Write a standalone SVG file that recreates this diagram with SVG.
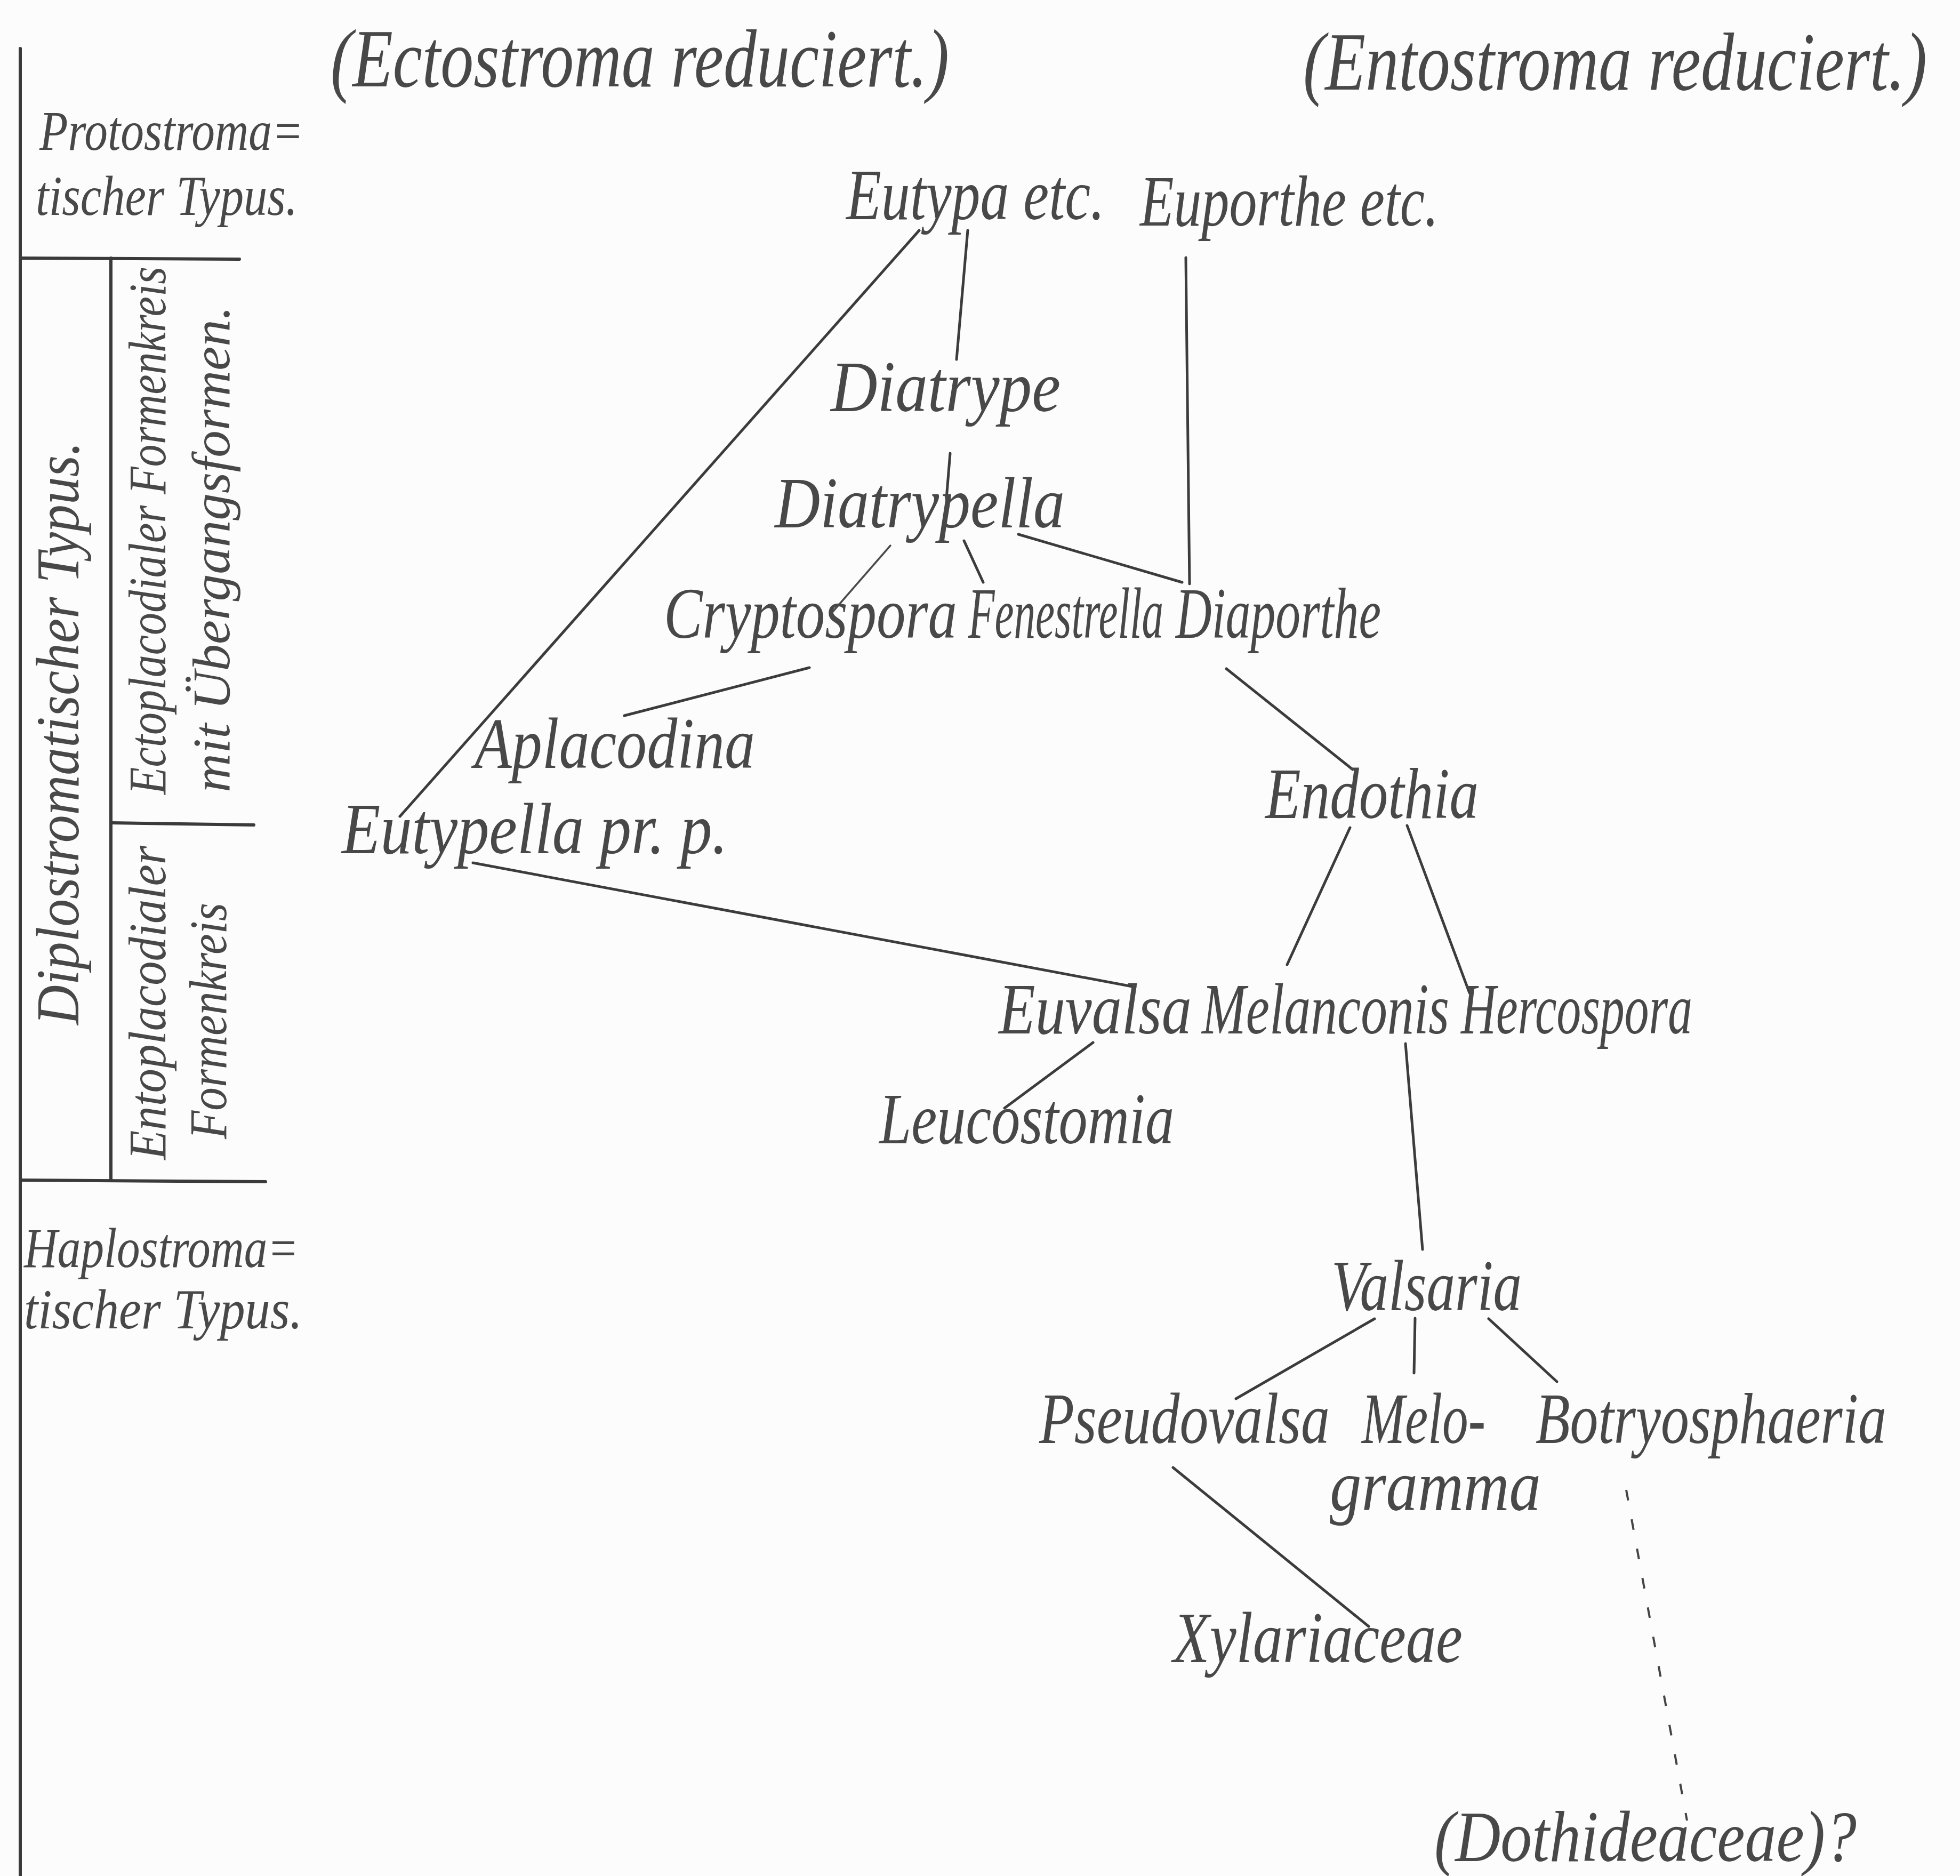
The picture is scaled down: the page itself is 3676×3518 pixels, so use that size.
<svg xmlns="http://www.w3.org/2000/svg" width="3676" height="3518" viewBox="0 0 3676 3518">
<style>
  .bg { fill: #fcfcfc; }
  .frame { stroke: #3a3a3a; stroke-width: 6; fill: none; stroke-linecap: round; }
  .edge { stroke: #3c3c3c; stroke-width: 5; fill: none; stroke-linecap: round; }
  .thin { stroke: #4a4a4a; stroke-width: 3.5; fill: none; stroke-linecap: round; }
  .dots { stroke: #444; stroke-width: 4; fill: none; stroke-dasharray: 20 36; }
  text { font-family: "Liberation Serif", "DejaVu Serif", serif; font-style: italic; fill: #484848; }
  .hdr { font-size: 155px; }
  .side { font-size: 105px; }
  .vert { font-size: 115px; }
  .vert2 { font-size: 100px; }
  .lbl { font-size: 135px; }
</style>
<rect class="bg" x="0" y="0" width="3676" height="3518"/>

<g id="frame">
  <line class="frame" x1="38" y1="91" x2="38" y2="3518"/>
  <line class="frame" x1="38" y1="484" x2="449" y2="486"/>
  <line class="frame" x1="208" y1="484" x2="208" y2="2213"/>
  <line class="frame" x1="208" y1="1543" x2="476" y2="1547"/>
  <line class="frame" x1="38" y1="2213" x2="498" y2="2216"/>
</g>

<g id="headers">
  <text class="hdr" x="620" y="162" textLength="1160" lengthAdjust="spacingAndGlyphs">(Ectostroma reduciert.)</text>
  <text class="hdr" x="2444" y="168" textLength="1170" lengthAdjust="spacingAndGlyphs">(Entostroma reduciert.)</text>
</g>

<g id="side-labels">
  <g id="protostromatisch">
    <text class="side" x="74" y="281" textLength="495" lengthAdjust="spacingAndGlyphs">Protostroma=</text>
    <text class="side" x="67" y="403" textLength="491" lengthAdjust="spacingAndGlyphs">tischer Typus.</text>
  </g>
  <g id="diplostromatisch">
    <text class="vert" transform="translate(147,1922) rotate(-90)" textLength="1094" lengthAdjust="spacingAndGlyphs">Diplostromatischer Typus.</text>
  </g>
  <g id="ectoplacodial">
    <text class="vert2" transform="translate(310,1490) rotate(-90)" textLength="990" lengthAdjust="spacingAndGlyphs">Ectoplacodialer Formenkreis</text>
    <text class="vert2" transform="translate(430,1486) rotate(-90)" textLength="912" lengthAdjust="spacingAndGlyphs">mit Übergangsformen.</text>
  </g>
  <g id="entoplacodial">
    <text class="vert2" transform="translate(310,2175) rotate(-90)" textLength="589" lengthAdjust="spacingAndGlyphs">Entoplacodialer</text>
    <text class="vert2" transform="translate(424,2136) rotate(-90)" textLength="443" lengthAdjust="spacingAndGlyphs">Formenkreis</text>
  </g>
  <g id="haplostromatisch">
    <text class="side" x="45" y="2376" textLength="515" lengthAdjust="spacingAndGlyphs">Haplostroma=</text>
    <text class="side" x="45" y="2491" textLength="522" lengthAdjust="spacingAndGlyphs">tischer Typus.</text>
  </g>
</g>

<g id="connectors">
  <line class="edge" x1="1724" y1="432" x2="750" y2="1531"/>
  <line class="edge" x1="1815" y1="432" x2="1794" y2="674"/>
  <line class="edge" x1="1782" y1="850" x2="1775" y2="935"/>
  <line class="edge" x1="2224" y1="483" x2="2231" y2="1095"/>
  <line class="edge" x1="1910" y1="1002" x2="2217" y2="1092"/>
  <line class="edge" x1="1808" y1="1014" x2="1844" y2="1092"/>
  <line class="thin" x1="1670" y1="1023" x2="1562" y2="1147"/>
  <line class="edge" x1="1518" y1="1252" x2="1171" y2="1342"/>
  <line class="edge" x1="887" y1="1618" x2="2129" y2="1851"/>
  <line class="edge" x1="2300" y1="1254" x2="2537" y2="1443"/>
  <line class="edge" x1="2532" y1="1552" x2="2414" y2="1809"/>
  <line class="edge" x1="2639" y1="1548" x2="2756" y2="1862"/>
  <line class="edge" x1="2050" y1="1955" x2="1884" y2="2078"/>
  <line class="edge" x1="2636" y1="1957" x2="2668" y2="2343"/>
  <line class="edge" x1="2578" y1="2473" x2="2318" y2="2623"/>
  <line class="edge" x1="2654" y1="2472" x2="2652" y2="2575"/>
  <line class="edge" x1="2792" y1="2473" x2="2920" y2="2591"/>
  <line class="edge" x1="2200" y1="2752" x2="2567" y2="3050"/>
  <line class="dots" x1="3050" y1="2794" x2="3164" y2="3414"/>
</g>

<g id="n-eutypa"><text class="lbl" x="1587" y="411" textLength="485" lengthAdjust="spacingAndGlyphs">Eutypa etc.</text></g>
<g id="n-euporthe"><text class="lbl" x="2138" y="423" textLength="560" lengthAdjust="spacingAndGlyphs">Euporthe etc.</text></g>
<g id="n-diatrype"><text class="lbl" x="1558" y="771" textLength="431" lengthAdjust="spacingAndGlyphs">Diatrype</text></g>
<g id="n-diatrypella"><text class="lbl" x="1453" y="989" textLength="544" lengthAdjust="spacingAndGlyphs">Diatrypella</text></g>
<g id="n-cryptospora"><text class="lbl" x="1245" y="1196" textLength="550" lengthAdjust="spacingAndGlyphs">Cryptospora</text></g>
<g id="n-fenestrella"><text class="lbl" x="1816" y="1196" textLength="366" lengthAdjust="spacingAndGlyphs">Fenestrella</text></g>
<g id="n-diaporthe"><text class="lbl" x="2205" y="1196" textLength="385" lengthAdjust="spacingAndGlyphs">Diaporthe</text></g>
<g id="n-aplacodina"><text class="lbl" x="890" y="1440" textLength="526" lengthAdjust="spacingAndGlyphs">Aplacodina</text></g>
<g id="n-eutypella"><text class="lbl" x="641" y="1600" textLength="724" lengthAdjust="spacingAndGlyphs">Eutypella pr. p.</text></g>
<g id="n-endothia"><text class="lbl" x="2373" y="1534" textLength="400" lengthAdjust="spacingAndGlyphs">Endothia</text></g>
<g id="n-euvalsa"><text class="lbl" x="1873" y="1938" textLength="362" lengthAdjust="spacingAndGlyphs">Euvalsa</text></g>
<g id="n-melanconis"><text class="lbl" x="2254" y="1938" textLength="464" lengthAdjust="spacingAndGlyphs">Melanconis</text></g>
<g id="n-hercospora"><text class="lbl" x="2740" y="1938" textLength="434" lengthAdjust="spacingAndGlyphs">Hercospora</text></g>
<g id="n-leucostomia"><text class="lbl" x="1649" y="2144" textLength="553" lengthAdjust="spacingAndGlyphs">Leucostomia</text></g>
<g id="n-valsaria"><text class="lbl" x="2497" y="2457" textLength="357" lengthAdjust="spacingAndGlyphs">Valsaria</text></g>
<g id="n-pseudovalsa"><text class="lbl" x="1949" y="2706" textLength="545" lengthAdjust="spacingAndGlyphs">Pseudovalsa</text></g>
<g id="n-melogramma">
  <text class="lbl" x="2554" y="2706" textLength="232" lengthAdjust="spacingAndGlyphs">Melo-</text>
  <text class="lbl" x="2494" y="2832" textLength="396" lengthAdjust="spacingAndGlyphs">gramma</text>
</g>
<g id="n-botryosphaeria"><text class="lbl" x="2880" y="2706" textLength="658" lengthAdjust="spacingAndGlyphs">Botryosphaeria</text></g>
<g id="n-xylariaceae"><text class="lbl" x="2200" y="3117" textLength="543" lengthAdjust="spacingAndGlyphs">Xylariaceae</text></g>
<g id="n-dothideaceae"><text class="lbl" x="2690" y="3490" textLength="792" lengthAdjust="spacingAndGlyphs">(Dothideaceae)?</text></g>
</svg>
